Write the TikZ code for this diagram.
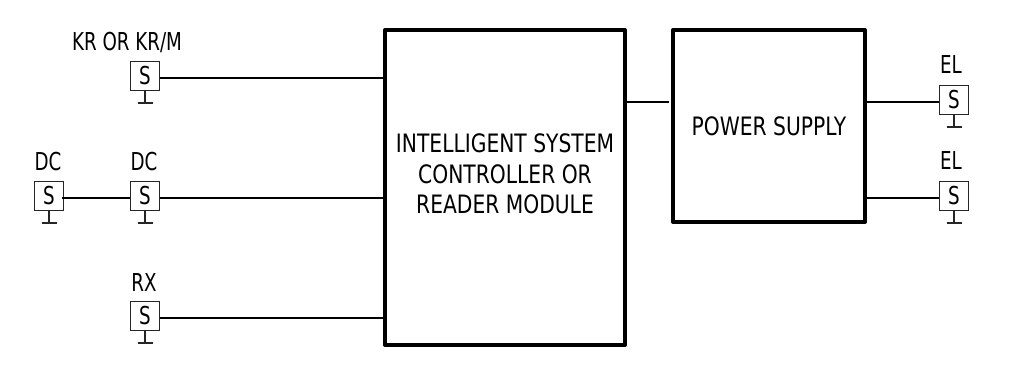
\documentclass[tikz,border=0pt]{standalone}
\usepackage{fontspec}
\setmainfont{DejaVu Sans}
\newfontfamily\lblfont{DejaVu Sans}[FakeStretch=0.74]
\newfontfamily\bigfont{DejaVu Sans}[FakeStretch=0.80]
\usetikzlibrary{positioning}
\tikzset{x=0.75pt,y=-0.75pt,
  sensor/.style={draw=black!85,line width=1.1pt,minimum size=22pt,inner sep=0pt,outer sep=0pt,font=\lblfont\fontsize{18.5}{19}\selectfont},
  bigbox/.style={draw=black,line width=3pt,line join=round,inner sep=0pt,outer sep=0pt},
  boxtext/.style={align=center,inner sep=0pt,font=\bigfont\fontsize{19}{23}\selectfont},
  wire/.style={draw=black,line width=1.5pt},
  thin wire/.style={draw=black!85,line width=1.1pt},
  lbl/.style={font=\lblfont\fontsize{18.5}{19}\selectfont,inner sep=0pt,anchor=base}}
\newcommand{\sensorat}[6]{% name, cx, cy, label, label x, label baseline
  \node[sensor] (#1) at (#2,#3) {S};
  \node[lbl] (#1l) at (#5,#6) {#4};
  \coordinate (#1g) at (#2,#3+27);
  \coordinate (#1a) at (#2-7.5,#3+27);
  \coordinate (#1b) at (#2+7.5,#3+27);
  \draw[thin wire] (#1.south) -- (#1g);
  \draw[thin wire] (#1a) -- (#1b);
}
\begin{document}
\begin{tikzpicture}
\useasboundingbox (0,0) rectangle (1009,374);
\node[bigbox,minimum width=180pt,minimum height=236pt] (isc) at (505,187.5) {};
\node[boxtext] (isct) at (505,174) {INTELLIGENT SYSTEM\\CONTROLLER OR\\READER MODULE};
\node[bigbox,minimum width=144pt,minimum height=144pt] (ps) at (769,126) {};
\node[boxtext] (pst) at (769,126) {POWER SUPPLY};
\sensorat{kr}{145}{76}{KR OR KR/M}{127}{51}
\sensorat{dca}{49}{196}{DC}{48}{171}
\sensorat{dcb}{145}{196}{DC}{144}{171}
\sensorat{rx}{145}{316}{RX}{144}{291}
\sensorat{ela}{954}{100}{EL}{951}{74}
\sensorat{elb}{954}{196}{EL}{951}{170}
\coordinate (krw) at (385,78); \coordinate (krs) at (160,78);
\draw[wire] (krs) -- (krw);
\coordinate (d0) at (62,198); \coordinate (d1) at (130,198); \coordinate (d2) at (160,198); \coordinate (d3) at (385,198);
\draw[wire] (d0) -- (d1); \draw[wire] (d2) -- (d3);
\coordinate (r0) at (160,318); \coordinate (r1) at (385,318);
\draw[wire] (r0) -- (r1);
\coordinate (p0) at (625,102); \coordinate (p1) at (669,102);
\draw[wire] (p0) -- (p1);
\coordinate (e0) at (866,102); \coordinate (e1) at (939,102);
\draw[wire] (e0) -- (e1);
\coordinate (f0) at (866,198); \coordinate (f1) at (939,198);
\draw[wire] (f0) -- (f1);
\end{tikzpicture}
\end{document}
